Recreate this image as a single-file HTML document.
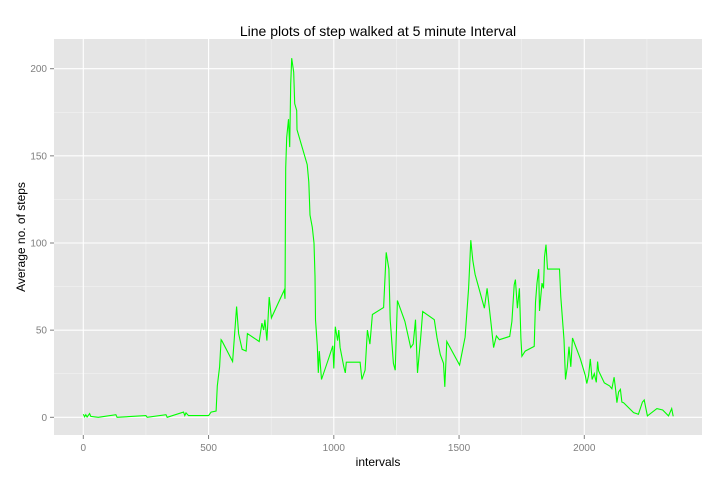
<!DOCTYPE html>
<html><head><meta charset="utf-8"><style>
body{margin:0;background:#fff;font-family:"Liberation Sans",sans-serif}
svg text{font-family:"Liberation Sans",sans-serif}
</style></head><body>
<svg id="chart" width="722" height="480" xmlns="http://www.w3.org/2000/svg">
<rect x="0" y="0" width="722" height="480" fill="#fff"/>
<text x="378" y="36" font-size="14" text-anchor="middle" fill="#000">Line plots of step walked at 5 minute Interval</text>
<rect x="54" y="39" width="648" height="396" fill="#e5e5e5"/>
<g id="grid"></g>
<g id="axes"></g>
<text x="378" y="466" font-size="12" text-anchor="middle" fill="#000">intervals</text>
<text transform="translate(25,237) rotate(-90)" font-size="12" text-anchor="middle" fill="#000">Average no. of steps</text>
</svg>
<script>
const intervals = [0,5,10,15,25,30,60,130,135,250,255,330,335,400,405,410,420,425,500,510,530,535,544,550,553,596,603,612,620,634,650,655,702,713,720,725,733,742,751,802,805,808,812,819,824,828,832,840,844,852,853,894,900,905,914,921,925,927,934,938,942,951,980,996,1000,1006,1015,1020,1025,1040,1046,1050,1105,1112,1125,1134,1144,1154,1199,1209,1220,1225,1238,1245,1254,1284,1307,1317,1326,1334,1347,1355,1401,1412,1425,1438,1443,1451,1502,1524,1538,1547,1555,1564,1601,1612,1629,1638,1649,1661,1702,1711,1720,1725,1733,1741,1747,1751,1764,1800,1805,1811,1818,1821,1831,1837,1841,1847,1853,1901,1906,1913,1919,1925,1932,1939,1946,1953,1984,2004,2010,2017,2024,2031,2040,2048,2053,2057,2080,2101,2110,2119,2125,2130,2137,2144,2150,2157,2197,2216,2232,2239,2252,2290,2313,2336,2349,2355];
const steps = [1.7,0.3,1.5,0.2,2.1,0.5,0,1.5,0,1,0,1.5,0,3,1,2.5,1,1,1,3,3.6,18,29,44.5,44,32,46,63.5,48,39,38,48,43.5,54,50,56,44,69,57,73,68,143,160.6,171,155,191,206,198,180,176,165,145,135,116,109,100,81,56,41,25.5,38,21.7,34,41,28,52,44,50,40,29,25.5,31.6,31.6,21.7,27,50,42,59,63,94.6,85,56,31,27,67,55,40,42,56,25.5,45.7,60.7,56,45.7,36,31,17.5,43.5,30,46,74,101.6,90,82,62.6,74,52,40,46.7,44.5,46.4,55,76,79,62.6,74,45.5,35,38,40.7,66,77,85,61,77,74,92,99,85,85,69,56,44.5,21.7,29,40.5,29,45.5,33.6,24,19.4,24,33.5,21.7,25,20,32,26.7,19.8,18,16.4,23,16,8.4,14.5,16,8.7,8.4,2.7,1.7,8.7,9.9,0.8,5,4.2,0.8,5,0.6,1.7];
const xTicks = [0,500,1000,1500,2000];
const xMinor = [250,750,1250,1750,2250];
const yTicks = [0,50,100,150,200];
const yMinor = [25,75,125,175];

const X0=83.3, XS=0.2505, Y0=417.3, YS=1.743;
const px = v => X0 + v*XS;
const py = v => Y0 - v*YS;
const NS='http://www.w3.org/2000/svg';
const svg=document.getElementById('chart');
const grid=document.getElementById('grid');
const axes=document.getElementById('axes');
function mk(tag, attrs, parent){const e=document.createElementNS(NS,tag);for(const k in attrs)e.setAttribute(k,attrs[k]);parent.appendChild(e);return e;}

xMinor.forEach(v=>{const l=mk('line',{x1:px(v),x2:px(v),y1:39,y2:435,stroke:'#f2f2f2','stroke-width':0.6},grid);

});
yMinor.forEach(v=>{const l=mk('line',{x1:54,x2:702,y1:py(v),y2:py(v),stroke:'#f2f2f2','stroke-width':0.6},grid);

});
xTicks.forEach(v=>{const l=mk('line',{x1:px(v),x2:px(v),y1:39,y2:435,stroke:'#fff','stroke-width':1.1},grid);


const t=mk('line',{x1:px(v),x2:px(v),y1:435,y2:439,stroke:'#7f7f7f','stroke-width':1},axes);


const tx=mk('text',{x:px(v),y:451,'font-size':10,'text-anchor':'middle',fill:'#7f7f7f'},axes);
tx.textContent=v;

});
yTicks.forEach(v=>{const l=mk('line',{x1:54,x2:702,y1:py(v),y2:py(v),stroke:'#fff','stroke-width':1.1},grid);


const t=mk('line',{x1:50,x2:54,y1:py(v),y2:py(v),stroke:'#7f7f7f','stroke-width':1},axes);


const tx=mk('text',{x:47,y:py(v)+3.5,'font-size':10,'text-anchor':'end',fill:'#7f7f7f'},axes);
tx.textContent=v;

});

const d=intervals.map((v,i)=>(i?'L':'M')+px(v).toFixed(1)+','+py(steps[i]).toFixed(1)).join(' ');
const path=mk('path',{d:d,fill:'none',stroke:'#00ff00','stroke-width':1.1},svg);


</script>
</body></html>
